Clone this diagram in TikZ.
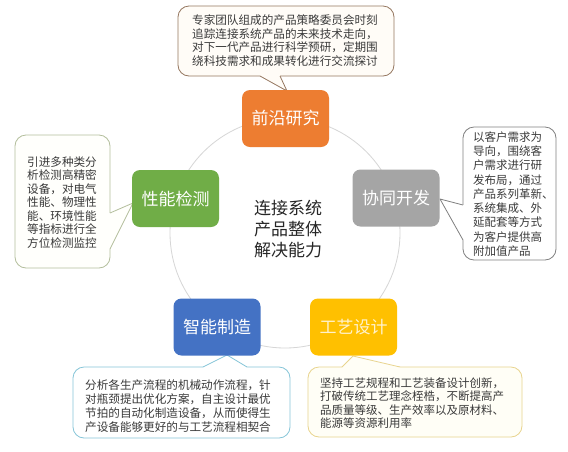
\documentclass[tikz,border=0pt]{standalone}
\usepackage{fontspec}
\setmainfont{Noto Sans CJK SC}
\usetikzlibrary{calc}
\definecolor{orangeC}{HTML}{ED7D31}
\definecolor{grayC}{HTML}{A5A5A5}
\definecolor{greenC}{HTML}{70AD47}
\definecolor{blueC}{HTML}{4472C4}
\definecolor{yellowC}{HTML}{FFC000}
\definecolor{yellowT}{HTML}{FFF2CC}
\definecolor{circleC}{HTML}{D6D6D6}
\definecolor{textG}{HTML}{3A3A3A}
\definecolor{centerT}{HTML}{262626}
\definecolor{topB}{HTML}{957760}
\definecolor{topF}{HTML}{FFFCF7}
\definecolor{leftB}{HTML}{B3BE9C}
\definecolor{leftF}{HTML}{FFFFFC}
\definecolor{rightB}{HTML}{808080}
\definecolor{blB}{HTML}{86C5D8}
\definecolor{brB}{HTML}{E8D48E}
\definecolor{brF}{HTML}{FFFEF6}
\newcommand{\callptr}[6]{%
  \fill[#2] ($(#3)+(#6)$) -- (#3) -- (#4) -- (#5) -- ($(#5)+(#6)$) -- cycle;
  \draw[#1, line width=0.8pt, line join=round] (#3) -- (#4) -- (#5);}
\begin{document}
\begin{tikzpicture}[x=1pt,y=-1pt,
  stagebox/.style={rounded corners=8pt, minimum width=87pt, minimum height=57pt,
    inner sep=0pt, text=white, font=\fontsize{17}{20}\selectfont},
  callbox/.style={rounded corners=11pt, line width=0.8pt, inner sep=0pt},
  calltext/.style={inner sep=0pt, align=left, text=textG}]
\fill[white] (0,0) rectangle (568,451);
\useasboundingbox (0,0) rectangle (568,451);

% ring
\node[circle, draw=circleC, line width=0.8pt, minimum size=230pt, inner sep=0pt] (ring) at (285,233) {};

% callouts
\node[callbox, draw=topB, fill=topF, minimum width=216pt, minimum height=70pt] (tc) at (286,41) {};
\node[callbox, draw=leftB, fill=leftF, minimum width=95pt, minimum height=133pt] (lc) at (62.5,201.5) {};
\node[callbox, draw=rightB, fill=white, minimum width=93pt, minimum height=133pt] (rc) at (509.5,193.5) {};
\node[callbox, draw=blB, fill=white, minimum width=217pt, minimum height=71pt] (blc) at (181.5,402.5) {};
\node[callbox, draw=brB, fill=brF, minimum width=214pt, minimum height=70pt] (brc) at (415,402) {};

% pointer coordinates
\coordinate (ta) at (260,76);   \coordinate (tt) at (287,91);  \coordinate (tb) at (280,76);
\coordinate (la) at (110,213);  \coordinate (lt) at (133,203); \coordinate (lb) at (110,249);
\coordinate (ra) at (463,205);  \coordinate (rt) at (440,199); \coordinate (rb) at (463,240);
\coordinate (ba) at (203,367);  \coordinate (bt) at (227,355); \coordinate (bb) at (247,367);
\coordinate (ya) at (342,367);  \coordinate (yt) at (353,356); \coordinate (yb) at (400,367);

\callptr{topB}{topF}{ta}{tt}{tb}{0,-1.6}
\callptr{leftB}{leftF}{la}{lt}{lb}{-1.6,0}
\callptr{rightB}{white}{ra}{rt}{rb}{1.6,0}
\callptr{blB}{white}{ba}{bt}{bb}{0,1.6}
\callptr{brB}{brF}{ya}{yt}{yb}{0,1.6}

% stage boxes
\node[stagebox, fill=orangeC] (qy) at (285.5,118.5) {前沿研究};
\node[stagebox, fill=grayC] (xt) at (396,198) {协同开发};
\node[stagebox, fill=greenC] (xn) at (175.5,198.5) {性能检测};
\node[stagebox, fill=blueC] (zn) at (217,327) {智能制造};
\node[stagebox, fill=yellowC, text=yellowT] (gy) at (353.5,327) {工艺设计};

% centre text
\node[inner sep=0pt, align=center, text=centerT, font=\fontsize{17}{21}\selectfont] (core) at (288,229.5)
  {连接系统\\产品整体\\解决能力};

% callout texts
\node[calltext, font=\fontsize{11.6}{13.4}\selectfont] (tct) at (285,40.5)
  {专家团队组成的产品策略委员会时刻\\追踪连接系统产品的未来技术走向，\\对下一代产品进行科学预研，定期围\\绕科技需求和成果转化进行交流探讨};
\node[calltext, font=\fontsize{11.6}{13.5}\selectfont] (lct) at (62,202.5)
  {引进多种类分\\析检测高精密\\设备，对电气\\性能、物理性\\能、环境性能\\等指标进行全\\方位检测监控};
\node[calltext, anchor=west, font=\fontsize{11.5}{14.25}\selectfont] (rct) at (473,194)
  {以客户需求为\\导向，围绕客\\户需求进行研\\发布局，通过\\产品系列革新、\\系统集成、外\\延配套等方式\\为客户提供高\\附加值产品};
\node[calltext, anchor=west, font=\fontsize{11.6}{14}\selectfont] (blct) at (85,406)
  {分析各生产流程的机械动作流程，针\\对瓶颈提出优化方案，自主设计最优\\节拍的自动化制造设备，从而使得生\\产设备能够更好的与工艺流程相契合};
\node[calltext, anchor=west, font=\fontsize{11.5}{13.4}\selectfont] (brct) at (320,403)
  {坚持工艺规程和工艺装备设计创新，\\打破传统工艺理念桎梏，不断提高产\\品质量等级、生产效率以及原材料、\\能源等资源利用率};
\end{tikzpicture}
\end{document}
